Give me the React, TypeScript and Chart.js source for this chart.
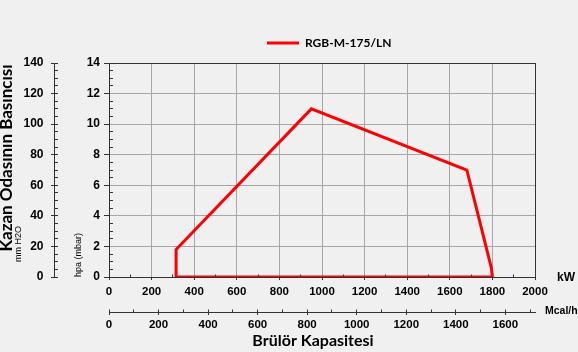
import React, { useEffect, useRef } from 'react';
import { Chart, registerables } from 'chart.js';

Chart.register(...registerables);

// ---- data ----
const SERIES_LABEL = 'RGB-M-175/LN';
const CAPACITY_KW = [315, 315, 950, 1680, 1795, 1800, 315];
const PRESSURE_HPA = [0, 1.8, 11, 7, 0.6, 0, 0];

// ---- axes ----
const KW_MIN = 0;
const KW_MAX = 2000;
const KW_STEP = 200;
const KW_PER_MCAL = 1.163;
const MCAL_STEP = 200;
const HPA_MIN = 0;
const HPA_MAX = 14;
const HPA_STEP = 2;
const MM_MIN = 0;
const MM_MAX = 140;
const MM_STEP = 20;

// ---- texts ----
const Y_TITLE = 'Kazan Odasının Basıncısı';
const Y_UNIT_MM = 'mm H2O';
const Y_UNIT_HPA = 'hpa (mbar)';
const X_UNIT_KW = 'kW';
const X_UNIT_MCAL = 'Mcal/h';
const X_TITLE = 'Brülör Kapasitesi';

const RED = '#ff0000';
const AXIS = '#333333';
const GRID = '#a6a6a6';
const BG = '#f0f0f0';
const ARIAL = '"Liberation Sans", Arial, sans-serif';
const CAL = 'Lato, "Open Sans", sans-serif';

const al = (p: number) => Math.round(p - 0.5) + 0.5;

const extrasPlugin = {
  id: 'extras',
  afterLayout(chart: any) {
    const lg = chart.legend;
    if (!lg) return;
    const w = lg.width;
    const h = lg.height;
    lg.left = 257;
    lg.right = lg.left + w;
    lg.top = 27;
    lg.bottom = lg.top + h;
  },
  afterDraw(chart: any) {
    const ctx = chart.ctx as CanvasRenderingContext2D;
    const { x, x2, y, y2 } = chart.scales;
    ctx.save();
    ctx.strokeStyle = AXIS;
    ctx.lineWidth = 1;
    const line = (x1: number, y1: number, xx: number, yy: number) => {
      ctx.beginPath();
      ctx.moveTo(x1, y1);
      ctx.lineTo(xx, yy);
      ctx.stroke();
    };
    // kW minor ticks (inside)
    const kwTop = al(x.top);
    for (let v = KW_STEP / 2; v < KW_MAX; v += KW_STEP) {
      const px = al(x.getPixelForValue(v));
      line(px, kwTop, px, kwTop - 3);
    }
    // hpa minor ticks (inside)
    const hx = al(y.right);
    for (let v = 0.5; v < HPA_MAX; v += 0.5) {
      if (Math.abs(v % HPA_STEP) < 1e-6) continue;
      const py = al(y.getPixelForValue(v));
      line(hx, py, hx + 3.5, py);
    }
    // mm H2O major (inner part) and minor ticks
    const mx = al(y2.right);
    for (let v = MM_MIN; v <= MM_MAX; v += 5) {
      const py = al(y2.getPixelForValue(v));
      line(mx, py, mx + 3.5, py);
    }
    // Mcal/h major (inner part) and minor ticks
    const mcTop = al(x2.top);
    const mcMax = KW_MAX / KW_PER_MCAL;
    for (let v = 0; v < mcMax; v += MCAL_STEP / 2) {
      const px = al(x2.getPixelForValue(v));
      line(px, mcTop, px, mcTop - 3);
    }

    ctx.fillStyle = '#000';
    // big left title (rotated, clipped by the left edge)
    ctx.save();
    ctx.translate(12, 158);
    ctx.rotate(-Math.PI / 2);
    ctx.font = `bold 17px ${CAL}`;
    ctx.textAlign = 'center';
    ctx.textBaseline = 'alphabetic';
    ctx.fillText(Y_TITLE, 0, 0);
    ctx.restore();
    // mm H2O unit
    ctx.save();
    ctx.translate(18.5, 262);
    ctx.rotate(-Math.PI / 2);
    ctx.font = `9px ${ARIAL}`;
    ctx.textAlign = 'left';
    ctx.textBaseline = 'middle';
    ctx.fillText(Y_UNIT_MM, 0, 0);
    ctx.restore();
    // kW unit
    ctx.font = `bold 12px ${ARIAL}`;
    ctx.textAlign = 'left';
    ctx.textBaseline = 'middle';
    ctx.fillText(X_UNIT_KW, 557, 278);
    // Mcal/h unit
    ctx.font = `bold 10.5px ${ARIAL}`;
    ctx.fillText(X_UNIT_MCAL, 545, 311);
    // bottom title
    ctx.font = `bold 16px ${CAL}`;
    ctx.textAlign = 'center';
    ctx.fillText(X_TITLE, 313, 341);
    ctx.restore();
  },
};

export default function App() {
  const ref = useRef<HTMLCanvasElement | null>(null);

  useEffect(() => {
    if (!ref.current) return;
    const points = CAPACITY_KW.map((kw, i) => ({ x: kw, y: PRESSURE_HPA[i] }));
    const tickFont = { family: ARIAL, size: 11.5, weight: 'bold' as const };
    const yTickFont = { family: ARIAL, size: 12, weight: 'bold' as const };
    const chart = new Chart(ref.current, {
      type: 'line',
      data: {
        datasets: [
          {
            label: SERIES_LABEL,
            data: points,
            xAxisID: 'x',
            yAxisID: 'y',
            borderColor: RED,
            backgroundColor: RED,
            borderWidth: 3,
            borderJoinStyle: 'miter',
            pointRadius: 0,
            fill: false,
            tension: 0,
          },
        ],
      },
      options: {
        responsive: false,
        maintainAspectRatio: false,
        animation: false,
        layout: { padding: { left: 0, right: 43, top: 31, bottom: 0 } },
        plugins: {
          tooltip: { enabled: false },
          legend: {
            display: true,
            position: 'top',
            align: 'start',
            labels: {
              boxWidth: 32,
              boxHeight: 3,
              padding: 10,
              color: '#000',
              font: { family: CAL, size: 12, weight: 'bold' },
              generateLabels: (c: any) =>
                c.data.datasets.map((ds: any, i: number) => ({
                  text: ds.label,
                  fillStyle: ds.borderColor,
                  strokeStyle: ds.borderColor,
                  lineWidth: 0,
                  hidden: false,
                  datasetIndex: i,
                  fontColor: '#000',
                })),
            },
          },
        },
        scales: {
          x: {
            type: 'linear',
            position: 'bottom',
            weight: 0,
            min: KW_MIN,
            max: KW_MAX,
            ticks: {
              stepSize: KW_STEP,
              color: '#000',
              font: tickFont,
              padding: 5,
              maxRotation: 0,
              callback: (v: any) => String(v),
            },
            grid: {
              color: (c: any) => (c.tick && c.tick.value === KW_MAX ? AXIS : c.tick && c.tick.value === KW_MIN ? 'rgba(0,0,0,0)' : GRID),
              lineWidth: 1,
              tickLength: 3,
              tickColor: AXIS,
            },
            border: { display: true, color: AXIS, width: 1 },
            afterFit: (s: any) => {
              s.height = 35;
            },
          },
          x2: {
            type: 'linear',
            position: 'bottom',
            weight: 1,
            min: 0,
            max: KW_MAX / KW_PER_MCAL,
            ticks: {
              stepSize: MCAL_STEP,
              includeBounds: false,
              color: '#000',
              font: tickFont,
              padding: 3,
              maxRotation: 0,
              callback: (v: any) => String(v),
            },
            grid: { drawOnChartArea: false, drawTicks: true, tickLength: 3, tickColor: AXIS },
            border: { display: true, color: AXIS, width: 1 },
            afterFit: (s: any) => {
              s.height = 40;
            },
          },
          y: {
            type: 'linear',
            position: 'left',
            weight: 0,
            min: HPA_MIN,
            max: HPA_MAX,
            ticks: {
              stepSize: HPA_STEP,
              color: '#000',
              font: yTickFont,
              padding: 4,
              callback: (v: any) => String(v),
            },
            title: {
              display: true,
              text: Y_UNIT_HPA,
              align: 'start',
              color: '#000',
              font: { family: ARIAL, size: 9, weight: 'normal' },
              padding: { top: 19, bottom: 0 },
            },
            grid: {
              color: (c: any) => (c.tick && c.tick.value === HPA_MAX ? AXIS : c.tick && c.tick.value === HPA_MIN ? 'rgba(0,0,0,0)' : GRID),
              lineWidth: 1,
              tickLength: 5,
              tickColor: AXIS,
            },
            border: { display: true, color: AXIS, width: 1 },
            afterFit: (s: any) => {
              s.width = 55;
            },
          },
          y2: {
            type: 'linear',
            position: 'left',
            weight: 1,
            min: MM_MIN,
            max: MM_MAX,
            ticks: {
              stepSize: MM_STEP,
              color: '#000',
              font: yTickFont,
              padding: 7.5,
              callback: (v: any) => String(v),
            },
            grid: { drawOnChartArea: false, drawTicks: true, tickLength: 3, tickColor: AXIS },
            border: { display: true, color: AXIS, width: 1 },
            afterFit: (s: any) => {
              s.width = 54;
            },
          },
        },
      } as any,
      plugins: [extrasPlugin],
    });
    return () => chart.destroy();
  }, []);

  return (
    <div style={{ position: 'fixed', left: 0, top: 0, width: 578, height: 352, background: BG, overflow: 'hidden' }}>
      <canvas ref={ref} width={578} height={352} style={{ display: 'block' }} />
    </div>
  );
}
